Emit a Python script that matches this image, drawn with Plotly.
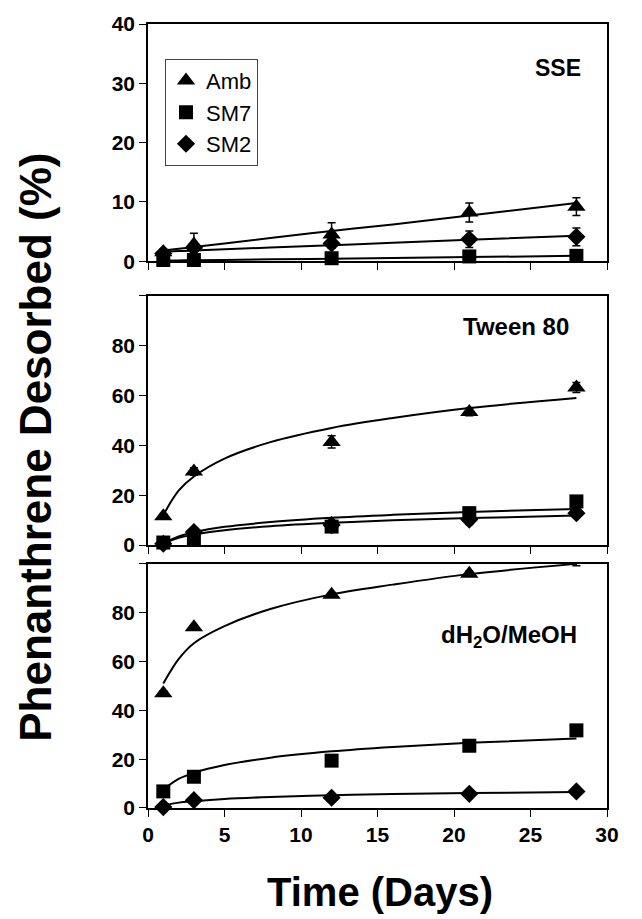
import plotly.graph_objects as go

# ---------------- data ----------------
days = [1, 3, 12, 21, 28]
fit_days = [1, 2, 3, 5, 8, 12, 16, 21, 28]
series_names = ["Amb", "SM7", "SM2"]
x_ticks = [0, 5, 10, 15, 20, 25, 30]

# SSE panel
sse_amb = [1.5, 2.8, 4.5, 8.2, 9.2]
sse_amb_err = [0.5, 1.9, 2.0, 1.6, 1.5]
sse_sm7 = [0.2, 0.2, 0.5, 0.8, 0.9]
sse_sm7_err = [0.2, 0.2, 0.2, 0.3, 0.3]
sse_sm2 = [1.3, 2.3, 3.0, 3.7, 4.1]
sse_sm2_err = [0.4, 0.6, 0.8, 1.4, 1.5]
sse_amb_fit = [1.8, 2.1, 2.4, 3.0, 3.9, 5.1, 6.2, 7.7, 9.8]
sse_sm7_fit = [0.1, 0.13, 0.16, 0.22, 0.31, 0.43, 0.55, 0.69, 0.9]
sse_sm2_fit = [1.6, 1.7, 1.8, 2.0, 2.3, 2.7, 3.1, 3.6, 4.3]

# Tween 80 panel
tw_amb = [11.5, 29.5, 41.4, 53.4, 63.2]
tw_amb_err = [1.0, 1.5, 2.5, 1.5, 2.0]
tw_sm7 = [1.0, 2.6, 7.4, 12.8, 17.5]
tw_sm7_err = [0.5, 1.0, 1.5, 1.5, 2.0]
tw_sm2 = [0.5, 5.2, 8.0, 10.2, 12.8]
tw_sm2_err = [0.5, 1.0, 1.0, 2.0, 1.5]
tw_amb_fit = [12.0, 21.8, 27.5, 34.7, 41.3, 47.0, 51.0, 55.0, 59.0]
tw_sm7_fit = [0.5, 3.4, 5.1, 7.3, 9.2, 10.9, 12.1, 13.3, 14.5]
tw_sm2_fit = [0.5, 2.85, 4.2, 5.96, 7.55, 8.9, 9.9, 10.8, 11.8]

# dH2O/MeOH panel
mh_amb = [47.0, 74.0, 87.3, 96.0, 100.2]
mh_amb_err = [1.0, 1.0, 1.0, 1.0, 1.0]
mh_sm7 = [6.8, 12.8, 19.4, 25.5, 31.8]
mh_sm7_err = [1.0, 1.0, 1.0, 1.0, 1.0]
mh_sm2 = [0.4, 3.2, 4.2, 5.8, 6.8]
mh_sm2_err = [0.5, 0.5, 0.5, 0.5, 0.5]
mh_amb_fit = [51.0, 61.0, 67.5, 74.5, 81.5, 87.5, 91.5, 95.8, 100.0]
mh_sm7_fit = [7.5, 11.9, 14.4, 17.6, 20.6, 23.2, 25.0, 26.7, 28.5]
mh_sm2_fit = [1.0, 2.2, 2.8, 3.7, 4.5, 5.2, 5.7, 6.1, 6.6]

panel_labels = ["SSE", "Tween 80", "dH<sub>2</sub>O/MeOH"]
y_title = "Phenanthrene Desorbed (%)"
x_title = "Time (Days)"

# ---------------- figure ----------------
W, H = 642, 919
L, R, T, B = 148, 607, 18, 808  # plot area in pixels
FONT = "Liberation Sans, Arial, sans-serif"


def px_x(p):
    return (p - L) / (R - L)


def px_y(p):
    return (B - p) / (B - T)


panels = [
    dict(vals=[sse_amb, sse_sm7, sse_sm2], errs=[sse_amb_err, sse_sm7_err, sse_sm2_err],
         fits=[sse_amb_fit, sse_sm7_fit, sse_sm2_fit], top=18, bot=257,
         yrange=[0, 40], ytv=[0, 10, 20, 30, 40], ytt=["0", "10", "20", "30", "40"]),
    dict(vals=[tw_amb, tw_sm7, tw_sm2], errs=[tw_amb_err, tw_sm7_err, tw_sm2_err],
         fits=[tw_amb_fit, tw_sm7_fit, tw_sm2_fit], top=292, bot=543,
         yrange=[0, 100], ytv=[0, 20, 40, 60, 80, 100], ytt=["0", "20", "40", "60", "80", " "]),
    dict(vals=[mh_amb, mh_sm7, mh_sm2], errs=[mh_amb_err, mh_sm7_err, mh_sm2_err],
         fits=[mh_amb_fit, mh_sm7_fit, mh_sm2_fit], top=562, bot=808,
         yrange=[0, 100], ytv=[0, 20, 40, 60, 80, 100], ytt=["0", "20", "40", "60", "80", " "]),
]

symbols = ["triangle-up", "square", "diamond"]
sizes = [16, 14, 14]

fig = go.Figure()
layout = {}
for i, p in enumerate(panels):
    n = "" if i == 0 else str(i + 1)
    xa, ya = "x" + n, "y" + n
    for j in range(3):
        fig.add_trace(go.Scatter(
            x=fit_days, y=p["fits"][j], mode="lines", line=dict(color="black", width=2, shape="spline"),
            xaxis=xa, yaxis=ya, showlegend=False, hoverinfo="skip", cliponaxis=False))
    for j in range(3):
        fig.add_trace(go.Scatter(
            x=days, y=p["vals"][j], mode="markers", name=series_names[j],
            marker=dict(symbol=symbols[j], size=sizes[j], color="black"),
            error_y=dict(type="data", array=p["errs"][j], color="black", thickness=1.5, width=4),
            xaxis=xa, yaxis=ya, showlegend=(i == 0), cliponaxis=False))
    bottom = (i == 2)
    layout["xaxis" + n] = dict(
        domain=[0, 1], range=[0, 30], anchor=ya, tickvals=x_ticks,
        ticktext=[str(v) for v in x_ticks],
        showticklabels=bottom, ticks="outside", ticklen=7, tickwidth=1, tickcolor="black",
        showline=True, linecolor="black", linewidth=1.5, mirror=True, showgrid=False, zeroline=False,
        tickfont=dict(family=FONT, size=21, color="black", weight="bold"))
    layout["yaxis" + n] = dict(
        domain=[px_y(p["bot"]), px_y(p["top"])], range=p["yrange"], anchor=xa,
        tickvals=p["ytv"], ticktext=p["ytt"], ticks="outside", ticklen=7, tickwidth=1, tickcolor="black",
        showline=True, linecolor="black", linewidth=1.5, mirror=True, showgrid=False, zeroline=False,
        tickfont=dict(family=FONT, size=21, color="black", weight="bold"))

annotations = [
    dict(text="<b>SSE</b>", x=px_x(583), y=px_y(62), xanchor="right", yanchor="middle",
         xref="paper", yref="paper", showarrow=False, font=dict(family=FONT, size=23, color="black")),
    dict(text="<b>Tween 80</b>", x=px_x(571), y=px_y(323), xanchor="right", yanchor="middle",
         xref="paper", yref="paper", showarrow=False, font=dict(family=FONT, size=24, color="black")),
    dict(text="<b>dH<sub>2</sub>O/MeOH</b>", x=px_x(579), y=px_y(635), xanchor="right", yanchor="middle",
         xref="paper", yref="paper", showarrow=False, font=dict(family=FONT, size=24, color="black")),
    dict(text="<b>" + y_title + "</b>", x=px_x(36), y=px_y(445), xanchor="center", yanchor="middle",
         textangle=-90, xref="paper", yref="paper", showarrow=False,
         font=dict(family=FONT, size=44, color="black")),
    dict(text="<b>" + x_title + "</b>", x=px_x(380), y=px_y(893), xanchor="center", yanchor="middle",
         xref="paper", yref="paper", showarrow=False, font=dict(family=FONT, size=40, color="black")),
]

fig.update_layout(
    **layout,
    width=W, height=H,
    margin=dict(l=L, r=W - R, t=T, b=H - B, pad=0),
    paper_bgcolor="white", plot_bgcolor="white",
    annotations=annotations,
    legend=dict(x=px_x(165), y=px_y(53), xanchor="left", yanchor="top",
                bgcolor="white", bordercolor="#444", borderwidth=1, tracegroupgap=0,
                font=dict(family=FONT, size=22, color="black"), itemsizing="trace"),
    showlegend=True,
)

fig.write_html("out.html", config={"displayModeBar": False},
               post_script="document.body.style.margin='0px';")
